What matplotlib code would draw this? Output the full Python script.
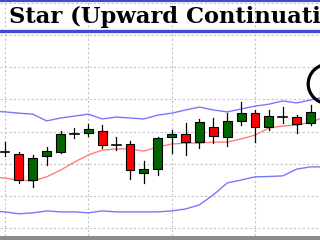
import numpy as np
import matplotlib.pyplot as plt
from matplotlib.lines import Line2D
from matplotlib.patches import Rectangle, Ellipse

# Candles
opens = [123.6, 123.0, 114.9, 122.4, 123.6, 129.2, 129.5, 130.1, 125.8, 126.1, 117.1, 118.3,
         128.3, 129.2, 126.7, 131.4, 128.3, 133.3, 135.7, 131.4, 134.5, 134.5, 132.6, 138.9]
highs = [126.7, 123.6, 122.7, 125.2, 130.1, 131.1, 132.3, 132.0, 128.3, 127.0, 120.8, 128.3,
         130.5, 132.6, 133.9, 134.2, 135.7, 139.2, 136.7, 136.7, 137.6, 135.1, 138.2, 145.1]
lows = [122.4, 114.0, 112.7, 119.6, 123.3, 128.0, 128.6, 124.9, 124.2, 115.2, 114.0, 116.5,
        123.3, 122.7, 124.9, 126.4, 125.5, 132.0, 126.7, 130.5, 132.6, 129.5, 132.0, 137.9]
closes = [123.6, 114.9, 121.8, 123.9, 129.2, 129.2, 130.8, 125.8, 125.8, 118.0, 118.3, 128.0,
          129.2, 126.7, 133.0, 128.6, 133.3, 135.7, 131.5, 134.8, 134.5, 132.3, 136.1, 143.8]

# Bollinger bands (start one bar before the first visible candle)
band_upper = [136.4, 136.1, 135.7, 135.4, 133.3, 134.2, 134.8, 135.4, 133.9, 134.5, 134.2, 133.9,
              135.1, 135.7, 136.7, 137.6, 136.7, 136.1, 137.0, 137.9, 138.5, 139.5, 138.9, 139.8, 140.7]
band_mid = [115.9, 115.5, 114.9, 114.6, 115.9, 118.0, 120.5, 122.7, 124.2, 124.6, 124.6, 123.9,
            125.2, 126.1, 126.4, 126.4, 126.7, 126.7, 127.7, 128.9, 131.1, 131.7, 132.0, 132.9, 134.5]
band_lower = [105.3, 105.0, 104.4, 104.7, 105.3, 105.0, 105.0, 104.7, 105.3, 105.0, 105.0, 105.0,
              105.0, 105.3, 105.9, 107.2, 110.3, 114.0, 114.9, 115.9, 116.0, 116.2, 118.3, 119.0, 119.0]

title = "Star (Upward Continuation)"
star_bar = 23

idx = np.arange(len(opens))
band_idx = np.arange(-1, len(band_mid) - 1)

fig = plt.figure(figsize=(3.2, 2.4), dpi=100)
ax = fig.add_axes([0, 4 / 240, 1, 236 / 240])
ax.set_xlim(-0.36, 22.68)
ax.set_ylim(97.5, 170.9)
for s in ax.spines.values():
    s.set_visible(False)
ax.set_xticks([0, 6, 12, 18])
ax.set_yticks(np.arange(100, 171, 10))
ax.tick_params(length=0, labelbottom=False, labelleft=False)
ax.grid(True, color='#c4c4c4', linestyle=(0, (2, 2)), linewidth=0.8)

# bands
ax.plot(band_idx, band_upper, color='#7878ff', lw=1.0, zorder=2)
ax.plot(band_idx, band_lower, color='#7878ff', lw=1.0, zorder=2)
ax.plot(band_idx, band_mid, color='#ff7f7f', lw=1.0, zorder=2)

# candles
w = 0.64
for i in idx:
    o, h, l, c = opens[i], highs[i], lows[i], closes[i]
    ax.plot([i, i], [l, h], color='black', lw=0.9, zorder=3)
    if abs(c - o) < 0.05:
        ax.plot([i - w / 2, i + w / 2], [o, o], color='black', lw=1.2, zorder=4)
    else:
        col = '#006400' if c > o else '#ff0000'
        ax.add_patch(Rectangle((i - w / 2, min(o, c)), w, abs(c - o), facecolor=col,
                               edgecolor='black', lw=0.8, zorder=4))

# circle around the star candle
ax.add_patch(Ellipse((star_bar + 0.33, highs[star_bar] - 0.3), 3.0, 12.4, fill=False,
                     edgecolor='black', lw=2.3, zorder=5, clip_on=True))

# title banner
fig.add_artist(Line2D([0, 1], [1 - 1 / 240, 1 - 1 / 240], color='#4848c8', lw=1.6))
fig.add_artist(Line2D([0, 1], [1 - 30.5 / 240, 1 - 30.5 / 240], color='#4848d0', lw=2.4))
fig.text(9 / 320, 1 - 22.5 / 240, title, fontsize=16.3, fontweight='bold',
         family='DejaVu Serif', color='black', va='baseline', ha='left')

# bottom frame
fig.add_artist(Rectangle((0, 0), 1, 4 / 240, transform=fig.transFigure,
                         facecolor='#8c8c8c', edgecolor='none'))

plt.savefig('out.png', dpi=100)
